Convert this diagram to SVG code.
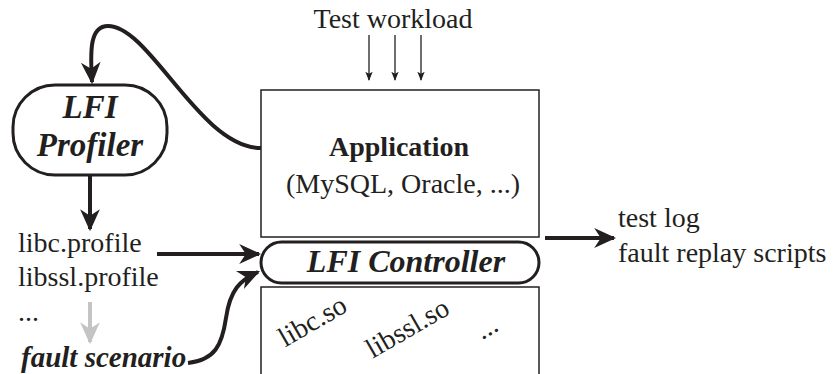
<svg xmlns="http://www.w3.org/2000/svg" width="834" height="374" viewBox="0 0 834 374">
<defs>
<style>
text{font-family:"Liberation Serif","Times New Roman",serif;fill:#231f20}
.r{font-size:28px}
.bi{font-size:29px;font-weight:bold;font-style:italic}
.box{fill:#fff;stroke:#231f20;stroke-width:1.5}
.pill{fill:#fff;stroke:#231f20;stroke-width:3}
.thick{fill:none;stroke:#231f20;stroke-width:4}
.thin{fill:none;stroke:#231f20;stroke-width:1.3}
</style>
<marker id="ah" viewBox="0 0 10 10" refX="9" refY="5" markerWidth="5.5" markerHeight="5.5" orient="auto" markerUnits="strokeWidth"><path d="M0,0.5 L10,5 L0,9.5 L3,5 Z" fill="#231f20"/></marker>
<marker id="ahg" viewBox="0 0 10 10" refX="9" refY="5" markerWidth="5.5" markerHeight="5.5" orient="auto" markerUnits="strokeWidth"><path d="M0,0.5 L10,5 L0,9.5 L3,5 Z" fill="#c4c4c4"/></marker>
<marker id="ahs" viewBox="0 0 10 10" refX="9" refY="5" markerWidth="7" markerHeight="7" orient="auto" markerUnits="strokeWidth"><path d="M0,1 L10,5 L0,9 L2,5 Z" fill="#231f20"/></marker>
</defs>
<g id="workload">
<text class="r" x="393" y="28" text-anchor="middle">Test workload</text>
</g>
<g id="application">
<rect class="box" x="261" y="90" width="278" height="147"/>
<text x="399" y="156" text-anchor="middle" style="font-size:28px;font-weight:bold">Application</text>
<text class="r" x="403" y="193" text-anchor="middle">(MySQL, Oracle, ...)</text>
</g>
<g id="controller">
<rect class="pill" x="261" y="242" width="278" height="41" rx="20.5"/>
<text x="406" y="272" text-anchor="middle" style="font-size:32px;font-weight:bold;font-style:italic">LFI Controller</text>
</g>
<g id="libs">
<rect class="box" x="261" y="287" width="278" height="100"/>
<text class="r" x="313" y="330" text-anchor="middle" transform="rotate(-30 313 322)">libc.so</text>
<text class="r" x="408" y="337" text-anchor="middle" transform="rotate(-30 408 329)">libssl.so</text>
<text class="r" x="487" y="336" text-anchor="middle" transform="rotate(-30 487 328)">...</text>
</g>
<g id="profiler">
<rect class="pill" x="13" y="85" width="154" height="90" rx="42"/>
<text x="90" y="118" text-anchor="middle" style="font-size:33px;font-weight:bold;font-style:italic">LFI</text>
<text x="90" y="156" text-anchor="middle" style="font-size:33px;font-weight:bold;font-style:italic">Profiler</text>
</g>
<g id="profiles">
<text class="r" x="18" y="252">libc.profile</text>
<text class="r" x="18" y="286">libssl.profile</text>
<text class="r" x="18" y="321">...</text>
</g>
<g id="scenario">
<text class="bi" x="21" y="367">fault scenario</text>
</g>
<g id="outputs">
<text class="r" x="618" y="227">test log</text>
<text class="r" x="618" y="262">fault replay scripts</text>
</g>
<g id="connectors">
<line class="thin" x1="369" y1="35" x2="369" y2="80" marker-end="url(#ahs)"/>
<line class="thin" x1="395" y1="35" x2="395" y2="80" marker-end="url(#ahs)"/>
<line class="thin" x1="421" y1="35" x2="421" y2="80" marker-end="url(#ahs)"/>
<path class="thick" d="M261,148 C200,148 150,26 108,26 C90,26 90,50 92,82" marker-end="url(#ah)"/>
<line class="thick" x1="90" y1="175" x2="90" y2="229" marker-end="url(#ah)"/>
<line x1="90" y1="302" x2="90" y2="342" stroke="#c4c4c4" stroke-width="4" marker-end="url(#ahg)"/>
<line class="thick" x1="157" y1="254" x2="259" y2="254" marker-end="url(#ah)"/>
<path class="thick" d="M188,363 C215,360 222,345 226,318 C230,290 240,280 258,272" marker-end="url(#ah)"/>
<line class="thick" x1="545" y1="238" x2="614" y2="238" marker-end="url(#ah)"/>
</g>
</svg>
